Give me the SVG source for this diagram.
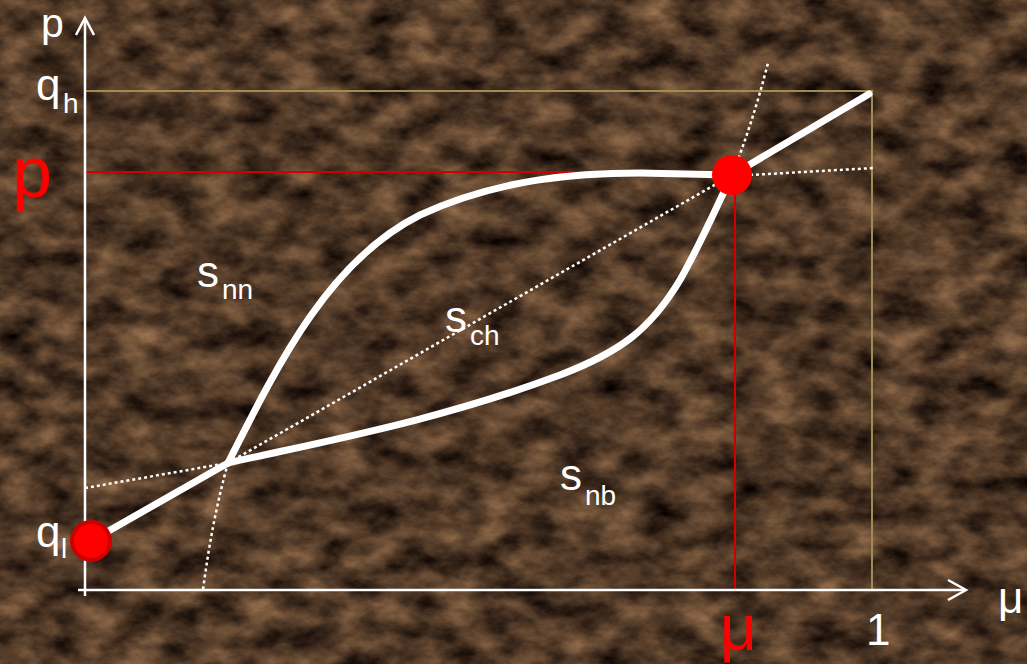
<svg xmlns="http://www.w3.org/2000/svg" width="1027" height="664" viewBox="0 0 1027 664">
<defs>
<filter id="marble" x="0" y="0" width="1027" height="664" filterUnits="userSpaceOnUse" color-interpolation-filters="sRGB">
<feTurbulence type="fractalNoise" baseFrequency="0.025 0.04" numOctaves="6" seed="7" result="n"/>
<feColorMatrix in="n" type="matrix" values="0.7 0 0 0 -0.04  0.54 0 0 0 -0.05  0.38 0 0 0 -0.04  0 0 0 0 1"/>
</filter>
<style>
.ax{stroke:#fff;stroke-width:2.5;fill:none}
.thick{stroke:#fff;stroke-width:7;fill:none;stroke-linecap:round;stroke-linejoin:round}
.dot{stroke:#fff;stroke-width:2.5;fill:none;stroke-dasharray:3 3}
.tan{stroke:#a08c52;stroke-width:2;fill:none}
.red{stroke:#d00000;stroke-width:2;fill:none}
.t{font-family:"Liberation Sans",Arial,sans-serif;fill:#fff}
.big{font-size:44px}
.sub{font-size:28px}
.rt{font-family:"Liberation Sans",Arial,sans-serif;fill:#ff0000}
</style>
</defs>
<rect x="0" y="0" width="1027" height="664" fill="#4a3424"/>
<rect x="0" y="0" width="1027" height="664" filter="url(#marble)"/>

<g id="guides">
<path class="tan" d="M85,91 H872 V590"/>
<path class="red" d="M85,172 H732"/>
<path class="red" d="M735,178 V590"/>
</g>

<g id="axes">
<path class="ax" d="M78,590 H965"/>
<path class="ax" d="M948,580 L966,590 L948,600"/>
<path class="ax" d="M85,596 V19"/>
<path class="ax" d="M76,35 L85,18 L94,35"/>
</g>

<g id="connectors">
<path class="dot" d="M85,488 L228,463"/>
<path class="dot" d="M228,463 L732,175"/>
<path class="dot" d="M228,463 Q212,520 203,590"/>
<path class="dot" d="M732,175 Q752,125 768,63"/>
<path class="dot" d="M732,176 L874,168"/>
<path class="thick" d="M91,541 L228,463"/>
<path class="thick" d="M732,175 L869,94"/>
<path class="thick" d="M228,463 C280,360 330,260 420,215 C500,178 580,173 640,173 L732,175"/>
<path class="thick" d="M228,463 C330,440 440,420 560,375 C620,352 650,330 680,280 C700,245 715,210 732,175"/>
</g>

<g id="point-top"><circle cx="732" cy="175" r="20" fill="#ff0000"/></g>
<g id="point-bottom"><circle cx="91" cy="541" r="19" fill="#ff0000" stroke="#cc0000" stroke-width="4"/></g>

<g id="labels">
<text class="t" x="41" y="37" font-size="41">p</text>
<text class="t big" x="36" y="100">q</text>
<text class="t sub" x="63" y="113">h</text>
<text class="rt" x="12" y="197" font-size="72">p</text>
<text class="t big" x="36" y="547">q</text>
<text class="t sub" x="61" y="558">l</text>
<text class="t big" x="197" y="287">s</text>
<text class="t sub" x="222" y="299">nn</text>
<text class="t big" x="445" y="332">s</text>
<text class="t sub" x="470" y="345">ch</text>
<text class="t big" x="560" y="490">s</text>
<text class="t sub" x="585" y="505">nb</text>
<text class="rt" x="720" y="650" font-size="64">μ</text>
<text class="t big" x="866" y="645">1</text>
<text class="t big" x="998" y="613">μ</text>
</g>
</svg>
